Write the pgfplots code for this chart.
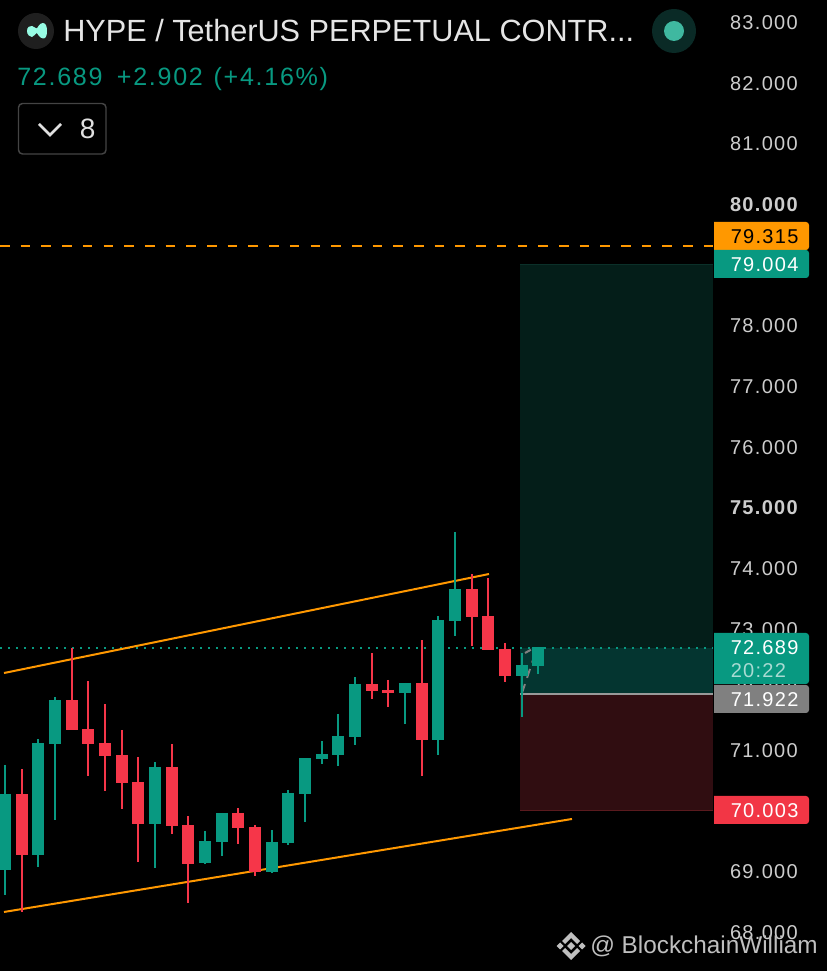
\documentclass[border=0pt]{standalone}
\usepackage{pgfplots}
\usepackage{fontspec}
\pgfplotsset{compat=1.18}
\setmainfont{Liberation Sans}
\newfontfamily\spaced[LetterSpace=6.5]{Liberation Sans}
\newfontfamily\headspaced[LetterSpace=6.9]{Liberation Sans}
\definecolor{up}{HTML}{089981}
\definecolor{down}{HTML}{F63649}
\definecolor{trend}{HTML}{FF9800}
\definecolor{ticktext}{HTML}{CDCDCD}
\definecolor{boxtp}{HTML}{041E19}
\definecolor{boxen}{HTML}{043530}
\definecolor{boxsl}{HTML}{300D11}
\definecolor{tagred}{HTML}{F23645}
\definecolor{taggrey}{HTML}{808080}
\definecolor{mint}{HTML}{97FCE4}
\definecolor{ringout}{HTML}{0A2A26}
\definecolor{ringin}{HTML}{3FB8A0}
\definecolor{slline}{HTML}{5A1A1E}
\definecolor{tpline}{HTML}{0B3029}
\definecolor{btn}{HTML}{444444}
\newcommand{\pricetag}[5]{%
  \fill[#1] (714,#2) [rounded corners=2.25pt] -- (809,#2) -- (809,#3) [sharp corners] -- (714,#3) -- cycle;
  \node[anchor=west,inner sep=0pt,text=#4,font=\spaced\fontsize{15}{18}\selectfont] at (730.5,{(#2+#3)/2+0.7}) {#5};}
\begin{document}
\begin{tikzpicture}
\path[use as bounding box,fill=black] (0,0) rectangle (620.25pt,728.25pt);
\begin{axis}[
  at={(0,0)},anchor=south west,scale only axis,
  width=534.75pt,height=728.25pt,
  xmin=-0.3,xmax=42.48,ymin=67.357,ymax=83.363,
  axis line style={draw=none},tick style={draw=none},
  xtick=\empty,
  ytick={68,69,70,71,72,73,74,75,76,77,78,79,80,81,82,83},
  yticklabels={68.000,69.000,70.000,71.000,72.000,73.000,74.000,\bfseries 75.000,76.000,77.000,78.000,79.000,\bfseries 80.000,81.000,82.000,83.000},
  yticklabel pos=right,
  yticklabel style={anchor=west,inner sep=0pt,xshift=12.6pt,yshift=-0.5pt,text=ticktext,font=\spaced\fontsize{15}{18}\selectfont},
  error bars/error mark=none,
]
% position box
\addplot[fill=boxtp,draw=none,forget plot] coordinates {(30.9,79.004)(42.48,79.004)(42.48,72.689)(30.9,72.689)} -- cycle;
\addplot[fill=boxen,draw=none,forget plot] coordinates {(30.9,72.689)(42.48,72.689)(42.48,71.922)(30.9,71.922)} -- cycle;
\addplot[fill=boxsl,draw=none,forget plot] coordinates {(30.9,71.922)(42.48,71.922)(42.48,70.003)(30.9,70.003)} -- cycle;
\addplot[draw=tpline,line width=.75pt,forget plot] coordinates {(30.9,79.004)(42.48,79.004)};
\addplot[draw=slline,line width=.75pt,forget plot] coordinates {(30.9,70.003)(42.48,70.003)};
\addplot[draw=taggrey!80!white,line width=1.5pt,forget plot] coordinates {(30.9,71.922)(42.48,71.922)};
% price lines
\addplot[draw=trend,line width=1.5pt,dash pattern=on 7.25pt off 8.275pt,forget plot] coordinates {(-0.3,79.315)(42.48,79.315)};
\addplot[draw=up,line width=1.5pt,dash pattern=on 1.5pt off 4.5pt,forget plot] coordinates {(-0.3,72.689)(42.48,72.689)};
% grey projection
\addplot[draw=taggrey,line width=1.5pt,dash pattern=on 7pt off 5pt,forget plot] coordinates {(31.02,71.94)(31.68,72.484)};
\addplot[draw=taggrey,line width=1.5pt,dash pattern=on 5pt off 6pt,forget plot] coordinates {(31.2,72.599)(31.74,72.681)(32.4,72.484)};
% channel
\addplot[draw=trend,line width=1.5pt,forget plot] coordinates {(-0.06,72.269)(29.04,73.901)};
\addplot[draw=trend,line width=1.5pt,forget plot] coordinates {(-0.06,68.33)(34.02,69.863)};
% green candles: wick
\addplot[draw=none,mark=none,forget plot,
  error bars/.cd,y dir=minus,y explicit,error bar style={draw=up,line width=1.5pt}]
  table[x=i,y=h,y error minus expr=\thisrow{h}-\thisrow{l}] {
i o h l c
0 69.022 70.753 68.610 70.275
2 69.269 71.181 69.071 71.115
3 71.099 71.874 69.846 71.824
9 69.780 70.802 69.055 70.720
12 69.137 69.665 69.121 69.500
13 69.484 69.962 69.253 69.962
16 68.989 69.681 68.973 69.484
17 69.467 70.341 69.434 70.291
18 70.275 70.868 69.813 70.868
19 70.852 71.148 70.769 70.934
20 70.918 71.594 70.736 71.231
21 71.214 72.203 71.083 72.088
24 71.940 72.105 71.429 72.105
26 71.165 73.209 70.918 73.143
27 73.127 74.594 72.879 73.654
31 72.220 72.599 71.544 72.401
32 72.385 72.698 72.253 72.698
};
% green candles: body
\addplot[draw=none,mark=none,forget plot,
  error bars/.cd,y dir=minus,y explicit,error bar style={draw=up,line width=9pt}]
  table[x=i,y=c,y error minus expr=\thisrow{c}-\thisrow{o}] {
i o h l c
0 69.022 70.753 68.610 70.275
2 69.269 71.181 69.071 71.115
3 71.099 71.874 69.846 71.824
9 69.780 70.802 69.055 70.720
12 69.137 69.665 69.121 69.500
13 69.484 69.962 69.253 69.962
16 68.989 69.681 68.973 69.484
17 69.467 70.341 69.434 70.291
18 70.275 70.868 69.813 70.868
19 70.852 71.148 70.769 70.934
20 70.918 71.594 70.736 71.231
21 71.214 72.203 71.083 72.088
24 71.940 72.105 71.429 72.105
26 71.165 73.209 70.918 73.143
27 73.127 74.594 72.879 73.654
31 72.220 72.599 71.544 72.401
32 72.385 72.698 72.253 72.698
};
% red candles: wick
\addplot[draw=none,mark=none,forget plot,
  error bars/.cd,y dir=minus,y explicit,error bar style={draw=down,line width=1.5pt}]
  table[x=i,y=h,y error minus expr=\thisrow{h}-\thisrow{l}] {
i o h l c
1 70.275 70.687 68.330 69.269
4 71.824 72.681 71.330 71.330
5 71.346 72.137 70.572 71.099
6 71.115 71.758 70.324 70.901
7 70.918 71.330 70.028 70.456
8 70.473 70.885 69.154 69.780
10 70.720 71.099 69.615 69.747
11 69.764 69.912 68.478 69.121
14 69.962 70.044 69.451 69.714
15 69.731 69.764 68.923 68.989
22 72.088 72.599 71.841 71.973
23 71.989 72.154 71.709 71.940
25 72.105 72.813 70.572 71.165
28 73.654 73.901 72.714 73.192
29 73.209 73.835 72.649 72.649
30 72.665 72.764 72.121 72.220
};
% red candles: body
\addplot[draw=none,mark=none,forget plot,
  error bars/.cd,y dir=minus,y explicit,error bar style={draw=down,line width=9pt}]
  table[x=i,y=o,y error minus expr=\thisrow{o}-\thisrow{c}] {
i o h l c
1 70.275 70.687 68.330 69.269
4 71.824 72.681 71.330 71.330
5 71.346 72.137 70.572 71.099
6 71.115 71.758 70.324 70.901
7 70.918 71.330 70.028 70.456
8 70.473 70.885 69.154 69.780
10 70.720 71.099 69.615 69.747
11 69.764 69.912 68.478 69.121
14 69.962 70.044 69.451 69.714
15 69.731 69.764 68.923 68.989
22 72.088 72.599 71.841 71.973
23 71.989 72.154 71.709 71.940
25 72.105 72.813 70.572 71.165
28 73.654 73.901 72.714 73.192
29 73.209 73.835 72.649 72.649
30 72.665 72.764 72.121 72.220
};
\end{axis}
% overlays in reference pixels
\begin{scope}[x=0.75pt,y=-0.75pt,yshift=728.25pt]
\pricetag{trend}{222}{250}{black}{79.315}
\pricetag{up}{250}{278}{white}{79.004}
\fill[up] (714,633) [rounded corners=2.25pt] -- (809,633) -- (809,684) [sharp corners] -- (714,684) -- cycle;
\node[anchor=west,inner sep=0pt,text=white,font=\spaced\fontsize{15}{18}\selectfont] at (730.5,648) {72.689};
\node[anchor=west,inner sep=0pt,text=white!65!up,font=\spaced\fontsize{15}{18}\selectfont] at (730.5,671) {20:22};
\pricetag{taggrey}{685}{713}{white}{71.922}
\pricetag{tagred}{796}{824}{white}{70.003}
% header
\fill[black!88!white] (36,31) circle (13.5pt);
\fill[mint] (27,31) .. controls (27,27) and (30,25.5) .. (32,26) .. controls (34,26.5) and (35,28) .. (36.5,28.5) .. controls (38,28) and (39,23) .. (43,23) .. controls (46,23) and (47,27) .. (47,31) .. controls (47,35) and (46,39) .. (43,38.5) .. controls (39,38) and (38,33.5) .. (36.5,33) .. controls (35,33.5) and (34,37) .. (32,37) .. controls (30,37) and (27,35) .. (27,31) -- cycle;
\node[anchor=base west,inner sep=0pt,text=white!90!black,font=\fontsize{23}{27}\selectfont] at (63,42) {HYPE / TetherUS PERPETUAL CONTR...};
\node[anchor=base west,inner sep=0pt,text=up,font=\headspaced\fontsize{18.8}{22}\selectfont] at (17,86) {72.689\hspace{10.75pt}+2.902\hspace{1.5pt} (+4.16\%)};
\fill[ringout] (674,31) circle (16.5pt);
\fill[ringin] (674,31) circle (7.5pt);
\draw[btn,line width=1.1pt,rounded corners=3pt] (18.5,103.5) rectangle (106,154);
\draw[white!88!black,line width=2pt] (39,124) -- (50,135) -- (61,124);
\node[anchor=base west,inner sep=0pt,text=white!88!black,font=\fontsize{21}{24}\selectfont] at (79.5,139) {8};
% watermark
\begin{scope}[white!75!black]
\fill (571,932) -- (580,941) -- (577,944) -- (571,938) -- (565,944) -- (562,941) -- cycle;
\fill (571,960) -- (580,951) -- (577,948) -- (571,954) -- (565,948) -- (562,951) -- cycle;
\fill (571,942) -- (575,946) -- (571,950) -- (567,946) -- cycle;
\fill (560,942.5) -- (563.5,946) -- (560,949.5) -- (556.5,946) -- cycle;
\fill (582,942.5) -- (585.5,946) -- (582,949.5) -- (578.5,946) -- cycle;
\end{scope}
\node[anchor=base west,inner sep=0pt,text=white!75!black,font=\fontsize{18.25}{22}\selectfont] at (590,954) {@ BlockchainWilliam};
\end{scope}
\end{tikzpicture}
\end{document}
